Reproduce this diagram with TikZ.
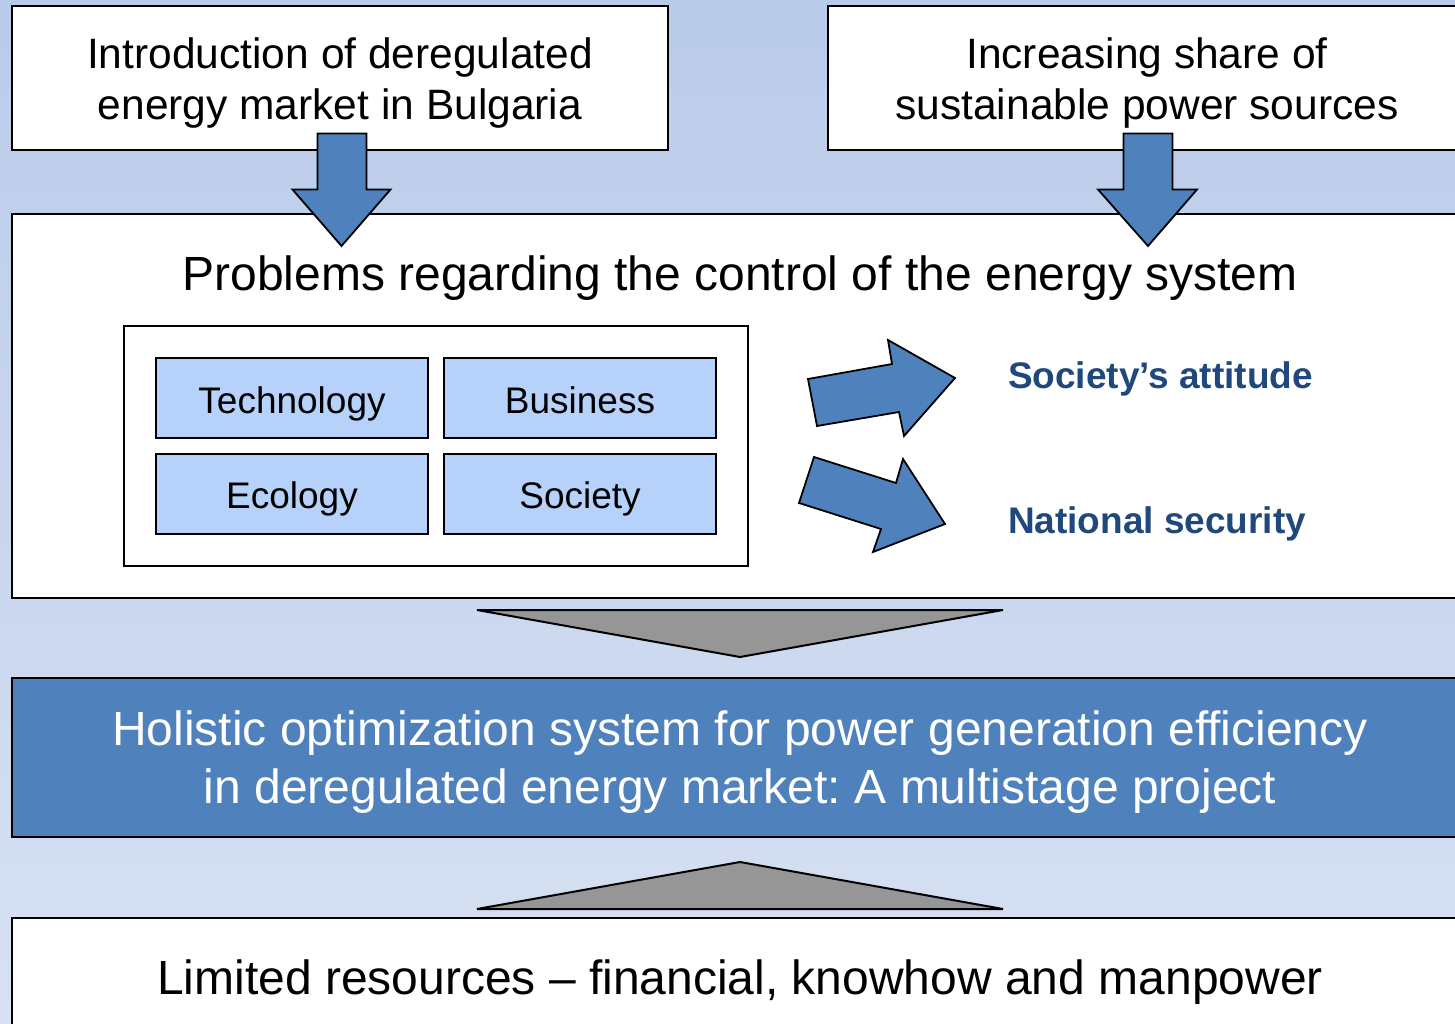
\documentclass[tikz,border=0pt]{standalone}
\usepackage{fontspec}
\setmainfont{Liberation Sans}
\frenchspacing
\definecolor{bgtop}{HTML}{BACBEA}
\definecolor{bgbot}{HTML}{D7E1F2}
\definecolor{arrowblue}{HTML}{4F81BD}
\definecolor{cellblue}{HTML}{B6D2FA}
\definecolor{labelblue}{HTML}{1F497D}
\definecolor{wedgegray}{HTML}{969696}
\begin{document}
\begin{tikzpicture}[x=1pt,y=-1pt,
  frame/.style={draw=black,line width=2.4pt,fill=white,inner sep=0pt,outer sep=0pt,anchor=north west},
  cell/.style={frame,fill=cellblue,line width=2pt,minimum width=272pt,minimum height=80pt},
  blockarrow/.style={draw=black,line width=1.8pt,fill=arrowblue,line join=miter},
  wedge/.style={draw=black,line width=2pt,fill=wedgegray,line join=miter},
  txt/.style={anchor=base,inner sep=0pt,outer sep=0pt},
  toptxt/.style={txt,font=\fontsize{42.5}{52}\selectfont},
  bigtxt/.style={txt,font=\fontsize{48}{58}\selectfont},
  celltxt/.style={txt,font=\fontsize{37}{44}\selectfont},
  sidetxt/.style={txt,anchor=base west,text=labelblue,font=\fontsize{37}{44}\selectfont\bfseries}]

% canvas and soft blue backdrop
\useasboundingbox (0,0) rectangle (1455,1024);
\clip (0,0) rectangle (1455,1024);
\shade[top color=bgtop,bottom color=bgbot] (0,0) rectangle (1455,1024);

% two driving factors
\node[frame,minimum width=656pt,minimum height=144pt] (market) at (12,6) {};
\node[toptxt] (marketA) at (340,69) {Introduction of deregulated};
\node[toptxt] (marketB) at (340,120) {energy market in Bulgaria};

\node[frame,minimum width=640pt,minimum height=144pt] (green) at (828,6) {};
\node[toptxt] (greenA) at (1147,69) {Increasing share of};
\node[toptxt] (greenB) at (1147,120) {sustainable power sources};

% problem area
\node[frame,minimum width=1456pt,minimum height=384pt] (problems) at (12,214) {};
\node[bigtxt] (problemsT) at (740,290) {Problems regarding the control of the energy system};

\node[frame,line width=2pt,minimum width=624pt,minimum height=240pt] (aspects) at (124,326) {};
\node[cell] (tech) at (156,358) {};
\node[cell] (bus)  at (444,358) {};
\node[cell] (eco)  at (156,454) {};
\node[cell] (soc)  at (444,454) {};
\node[celltxt] at (292,413) (techT) {Technology};
\node[celltxt] at (580,413) (busT) {Business};
\node[celltxt] at (292,508) (ecoT) {Ecology};
\node[celltxt] at (580,508) (socT) {Society};

\node[sidetxt] (attitude) at (1008,388) {Society’s attitude};
\node[sidetxt] (security) at (1008,533) {National security};

% block arrows feeding the problem area
\draw[blockarrow] (317.5,133.5) -- (366.5,133.5) -- (366.5,189.5) -- (390.5,189.5)
  -- (341.5,246) -- (292.5,189.5) -- (317.5,189.5) -- cycle;
\draw[blockarrow] (1123.5,133.5) -- (1172.5,133.5) -- (1172.5,189.5) -- (1197,189.5)
  -- (1148,246) -- (1098,189.5) -- (1123.5,189.5) -- cycle;

% tilted arrows toward the side effects
\draw[blockarrow] (808,379) -- (892,364) -- (888,340) -- (955,378) -- (904,436)
  -- (899,412) -- (817,426) -- cycle;
\draw[blockarrow] (814,457) -- (896,483) -- (903,459) -- (945,524) -- (873,552)
  -- (881,529) -- (799,503) -- cycle;

% funnel into the project
\draw[wedge] (477,610) -- (1003,610) -- (740,657) -- cycle;

\node[frame,fill=arrowblue,minimum width=1456pt,minimum height=159pt] (project) at (12,678) {};
\node[bigtxt,text=white] (projectA) at (740,745) {Holistic optimization system for power generation efficiency};
\node[bigtxt,text=white] (projectB) at (740,803) {in deregulated energy market: A multistage project};

\draw[wedge] (477,909) -- (1003,909) -- (740,862) -- cycle;

% constraint at the base
\node[frame,minimum width=1456pt,minimum height=130pt] (limits) at (12,918) {};
\node[bigtxt] (limitsT) at (740,994) {Limited resources – financial, knowhow and manpower};
\end{tikzpicture}
\end{document}
